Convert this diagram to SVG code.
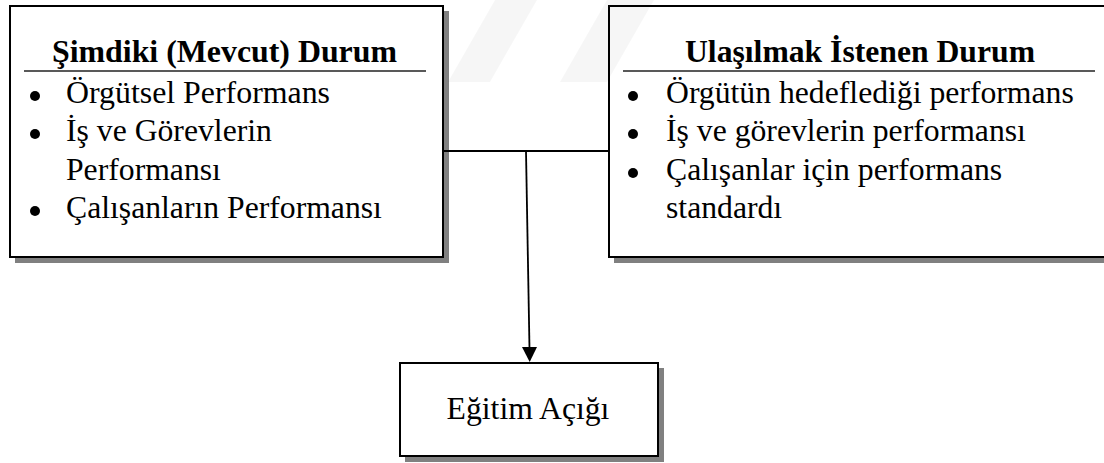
<svg xmlns="http://www.w3.org/2000/svg" width="1104" height="463" viewBox="0 0 1104 463">
  <defs>
    <style>
      .box { fill: #ffffff; stroke: #000000; stroke-width: 2; }
      .shadow { fill: #808080; stroke: none; }
      .rule { stroke: #222222; stroke-width: 1.6; }
      .title { font-family: "Liberation Serif", "Times New Roman", serif; font-weight: bold; font-size: 31.7px; fill: #000; }
      .item { font-family: "Liberation Serif", "Times New Roman", serif; font-size: 31.7px; fill: #000; }
      .bullet { fill: #000; }
      .conn { stroke: #000; stroke-width: 1.8; fill: none; }
      .wm { fill: #000; opacity: 0.035; }
    </style>
  </defs>
  <rect width="1104" height="463" fill="#ffffff"/>

  <g id="node-current">
    <rect class="shadow" x="15" y="11" width="434" height="252"/>
    <rect class="box" x="10" y="6" width="433" height="251"/>
    <text class="title" x="52" y="62" textLength="345" lengthAdjust="spacingAndGlyphs">Şimdiki (Mevcut) Durum</text>
    <line class="rule" x1="24" y1="71" x2="426" y2="71"/>
    <circle class="bullet" cx="35" cy="96" r="5"/>
    <text class="item" x="66" y="103" textLength="264" lengthAdjust="spacingAndGlyphs">Örgütsel Performans</text>
    <circle class="bullet" cx="35" cy="134" r="5"/>
    <text class="item" x="66" y="141">İş ve Görevlerin</text>
    <text class="item" x="66" y="180">Performansı</text>
    <circle class="bullet" cx="35" cy="211" r="5"/>
    <text class="item" x="66" y="218">Çalışanların Performansı</text>
  </g>

  <g id="node-target">
    <rect class="shadow" x="614" y="11" width="600" height="252"/>
    <rect class="box" x="609" y="6" width="600" height="251"/>
    <text class="title" x="685" y="62" textLength="350" lengthAdjust="spacingAndGlyphs">Ulaşılmak İstenen Durum</text>
    <line class="rule" x1="623" y1="71" x2="1095" y2="71"/>
    <circle class="bullet" cx="633" cy="96" r="5"/>
    <text class="item" x="666" y="103">Örgütün hedeflediği performans</text>
    <circle class="bullet" cx="633" cy="134" r="5"/>
    <text class="item" x="666" y="141">İş ve görevlerin performansı</text>
    <circle class="bullet" cx="633" cy="173" r="5"/>
    <text class="item" x="666" y="180">Çalışanlar için performans</text>
    <text class="item" x="666" y="218">standardı</text>
  </g>

  <g id="node-gap">
    <rect class="shadow" x="405" y="368" width="259" height="94"/>
    <rect class="box" x="400" y="363" width="258" height="93"/>
    <text class="item" x="528" y="419" text-anchor="middle">Eğitim Açığı</text>
  </g>

  <g id="connectors">
    <line class="conn" x1="443" y1="151" x2="609" y2="151"/>
    <line class="conn" x1="526" y1="151" x2="529.5" y2="349"/>
    <polygon points="522,347 537,347 529.7,362" fill="#000"/>
  </g>

  <g id="watermark">
    <polygon class="wm" points="448,82 490,82 537,0 495,0"/>
    <polygon class="wm" points="560,82 607,82 654,0 607,0"/>
  </g>
</svg>
